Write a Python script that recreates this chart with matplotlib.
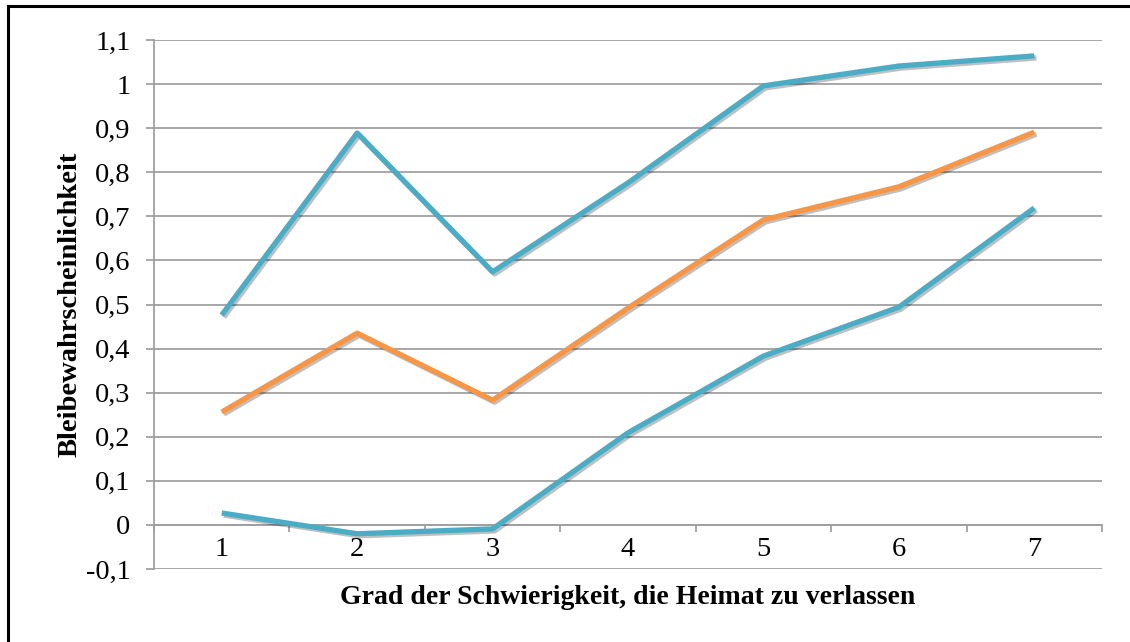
import numpy as np
import matplotlib.pyplot as plt
import matplotlib.patheffects as pe
from matplotlib.lines import Line2D

plt.rcParams['font.family'] = ['Liberation Serif', 'DejaVu Serif']

# data
grad = [1, 2, 3, 4, 5, 6, 7]
obere = [0.476, 0.889, 0.574, 0.776, 0.996, 1.041, 1.064]
mitte = [0.256, 0.435, 0.283, 0.492, 0.692, 0.767, 0.891]
untere = [0.027, -0.020, -0.009, 0.209, 0.383, 0.494, 0.719]
yticks = [-0.1, 0, 0.1, 0.2, 0.3, 0.4, 0.5, 0.6, 0.7, 0.8, 0.9, 1.0, 1.1]
ylabels = ['-0,1', '0', '0,1', '0,2', '0,3', '0,4', '0,5', '0,6', '0,7', '0,8', '0,9', '1', '1,1']

cyan = '#4BACC6'
orange = '#F79646'
grau = '#A0A0A0'

fig = plt.figure(figsize=(11.3, 6.42), dpi=100)
ax = fig.add_axes([154/1130, 1-569/642, 948/1130, 529/642])

for y in yticks:
    ax.axhline(y, color=grau, lw=1.3, zorder=1)

schatten = [pe.SimpleLineShadow(offset=(1.5, -1.5), alpha=0.25, shadow_color='k'), pe.Normal()]
ax.plot(grad, obere, color=cyan, lw=3.8, solid_capstyle='butt', path_effects=schatten, zorder=3)
ax.plot(grad, mitte, color=orange, lw=3.8, solid_capstyle='butt', path_effects=schatten, zorder=3)
ax.plot(grad, untere, color=cyan, lw=3.8, solid_capstyle='butt', path_effects=schatten, zorder=3)

ax.set_xlim(0.5, 7.5)
ax.set_ylim(-0.1, 1.1)
ax.set_yticks(yticks)
ax.set_yticklabels(ylabels, fontsize=20.5)
ax.tick_params(axis='y', length=6, width=1.3, color=grau, pad=11)
ax.set_xticks([])
for s in ['top', 'right', 'bottom']:
    ax.spines[s].set_visible(False)
ax.spines['left'].set_color(grau)
ax.spines['left'].set_linewidth(1.3)

# Kategorienachse bei y=0
sek = ax.secondary_xaxis(1/12)
sek.set_xticks(grad)
sek.set_xticklabels([str(g) for g in grad], fontsize=20.5)
sek.set_xticks(np.arange(0.5, 8, 1), minor=True)
sek.tick_params(axis='x', which='major', length=0, pad=9)
sek.tick_params(axis='x', which='minor', length=5, width=1.3, color=grau)
sek.spines['bottom'].set_color(grau)
sek.spines['bottom'].set_linewidth(1.3)

ax.set_ylabel('Bleibewahrscheinlichkeit', fontsize=20.5, fontweight='bold')
ax.yaxis.set_label_coords(-0.075, 0.5)
ax.set_xlabel('Grad der Schwierigkeit, die Heimat zu verlassen', fontsize=20, fontweight='bold')
ax.xaxis.set_label_coords(0.5, -0.03)

# Rahmen
fig.add_artist(Line2D([8/1130, 8/1130], [0, 1-6/642], color='k', lw=2.2, transform=fig.transFigure))
fig.add_artist(Line2D([8/1130, 1], [1-6/642, 1-6/642], color='k', lw=2.2, transform=fig.transFigure))

fig.savefig('out.png', dpi=100)
